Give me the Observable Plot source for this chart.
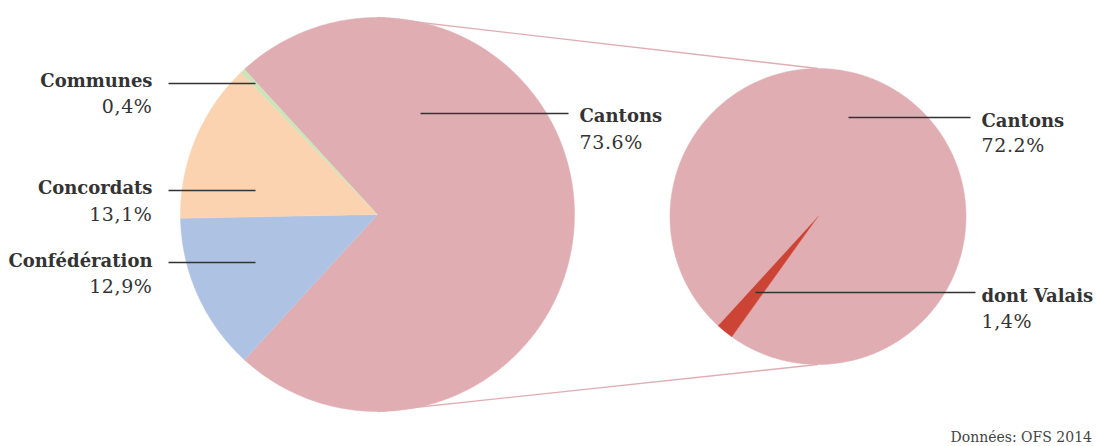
<!DOCTYPE html>
<html><head><meta charset="utf-8">
<script src="https://cdn.jsdelivr.net/npm/d3@7"></script>
<script src="https://cdn.jsdelivr.net/npm/@observablehq/plot@0.6"></script>
<style>
body{margin:0;background:#fff;}
#cap{width:1096px;height:18px;box-sizing:border-box;padding-right:4px;text-align:right;font-family:"DejaVu Serif",serif;font-size:14px;color:#444;line-height:18px;}
.pct text{letter-spacing:0.6px;}
</style></head>
<body><div id="chart"></div><div id="cap">Données: OFS 2014</div>
<script>
// ---- data ----
const mainCategories = ["Cantons", "Confédération", "Concordats", "Communes"];
const mainValues = [73.6, 12.9, 13.1, 0.4];
const mainPctLabels = ["73.6%", "12,9%", "13,1%", "0,4%"];
const detailCategories = ["Cantons", "dont Valais"];
const detailValues = [72.2, 1.4];
const detailPctLabels = ["72.2%", "1,4%"];

// ---- styles / layout ----
const colorDomain = ["Cantons", "Confédération", "Concordats", "Communes", "dont Valais"];
const colorRange = ["#e0aeb2", "#aec3e4", "#fbd3b0", "#cde4b8", "#cc4436"];
const W = 1096, H = 428;
const leftPie = {cx: 377, cy: 214, r: 197};
const rightPie = {cx: 817.5, cy: 216, r: 148};
const font = '"DejaVu Serif",serif';

// left pie: Cantons centred on the right-hand horizontal
const cantonsAngle = mainValues[0] / d3.sum(mainValues) * 2 * Math.PI;
const leftStart = Math.PI / 2 - cantonsAngle / 2;
const leftArcs = d3.pie().sort(null).startAngle(leftStart).endAngle(leftStart + 2 * Math.PI)(mainValues);
// right pie: Valais slice ends where the Cantons slice ends in the left pie
const rightEnd = leftStart + cantonsAngle;
const rightArcs = d3.pie().sort(null).startAngle(rightEnd - 2 * Math.PI).endAngle(rightEnd)(detailValues);

function polygons(arcs, cats, pie, prefix) {
  const pts = [];
  arcs.forEach((a, i) => {
    const key = prefix + i;
    pts.push({key, cat: cats[i], x: pie.cx, y: pie.cy});
    const n = Math.max(2, Math.ceil((a.endAngle - a.startAngle) / (Math.PI / 360)) + 1);
    for (let k = 0; k < n; k++) {
      const t = a.startAngle + (a.endAngle - a.startAngle) * k / (n - 1);
      pts.push({key, cat: cats[i], x: pie.cx + pie.r * Math.sin(t), y: pie.cy - pie.r * Math.cos(t)});
    }
  });
  return pts;
}
const slices = [...polygons(leftArcs, mainCategories, leftPie, "L"), ...polygons(rightArcs, detailCategories, rightPie, "R")];

// connectors between pies (top to top, bottom to bottom)
const connectors = [
  {x1: leftPie.cx, y1: leftPie.cy - leftPie.r, x2: rightPie.cx, y2: rightPie.cy - rightPie.r},
  {x1: leftPie.cx, y1: leftPie.cy + leftPie.r, x2: rightPie.cx, y2: rightPie.cy + rightPie.r}
];

// label layout (positions only)
const mainLayout = [
  {lx1: 420, lx2: 568, ly: 113, tx: 579, ty1: 116, ty2: 142, anchor: "start"},
  {lx1: 168, lx2: 255, ly: 262, tx: 152, ty1: 261, ty2: 286, anchor: "end"},
  {lx1: 168, lx2: 255, ly: 190, tx: 152, ty1: 188, ty2: 214, anchor: "end"},
  {lx1: 168, lx2: 255, ly: 83, tx: 152, ty1: 81, ty2: 106, anchor: "end"}
];
const detailLayout = [
  {lx1: 848, lx2: 970, ly: 117, tx: 981, ty1: 121, ty2: 145, anchor: "start"},
  {lx1: 755, lx2: 975, ly: 292, tx: 981, ty1: 296, ty2: 321, anchor: "start"}
];
const labels = [
  ...mainCategories.map((c, i) => ({name: c, pct: mainPctLabels[i], ...mainLayout[i]})),
  ...detailCategories.map((c, i) => ({name: c, pct: detailPctLabels[i], ...detailLayout[i]}))
];

const chart = Plot.plot({
  width: W, height: H, margin: 0,
  style: {fontFamily: font, background: "#fff"},
  x: {domain: [0, W], range: [0, W], axis: null},
  y: {domain: [0, H], range: [0, H], axis: null},
  color: {type: "ordinal", domain: colorDomain, range: colorRange},
  marks: [
    Plot.link(connectors, {x1: "x1", y1: "y1", x2: "x2", y2: "y2", stroke: "#e0aeb2", strokeWidth: 1.3}),
    Plot.line(slices, {x: "x", y: "y", z: "key", fill: "cat", stroke: "cat", strokeWidth: 0.5, curve: "linear"}),
    Plot.link(labels, {x1: "lx1", x2: "lx2", y1: "ly", y2: "ly", stroke: "#333", strokeWidth: 1.3}),
    Plot.text(labels.filter(d => d.anchor === "end"), {x: "tx", y: "ty1", text: "name", textAnchor: "end", fontWeight: "bold", fontSize: 18, fill: "#333"}),
    Plot.text(labels.filter(d => d.anchor === "end"), {x: "tx", y: "ty2", text: "pct", textAnchor: "end", fontSize: 19, fill: "#333", className: "pct"}),
    Plot.text(labels.filter(d => d.anchor === "start"), {x: "tx", y: "ty1", text: "name", textAnchor: "start", fontWeight: "bold", fontSize: 18, fill: "#333"}),
    Plot.text(labels.filter(d => d.anchor === "start"), {x: "tx", y: "ty2", text: "pct", textAnchor: "start", fontSize: 19, fill: "#333", className: "pct"})
  ]
});
document.getElementById("chart").appendChild(chart);
</script></body></html>
